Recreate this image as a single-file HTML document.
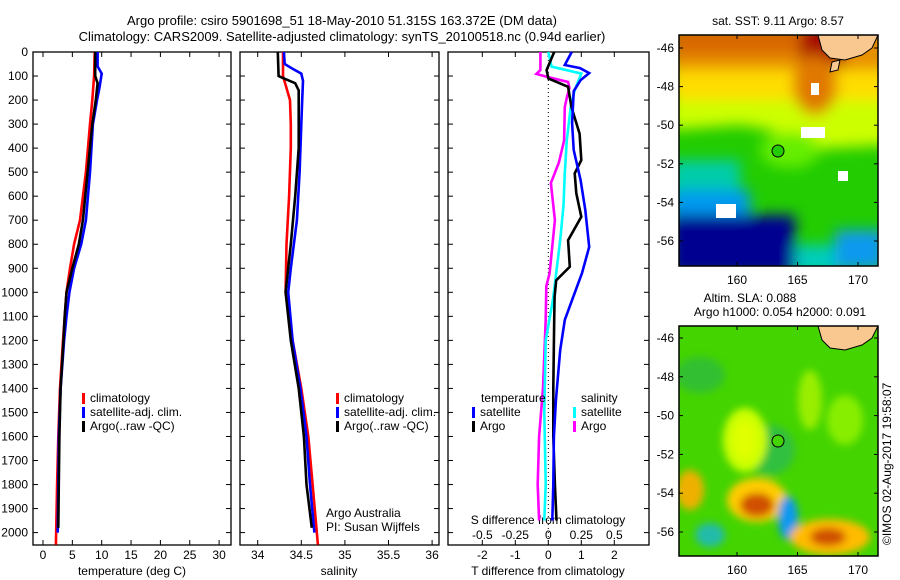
<!DOCTYPE html>
<html><head><meta charset="utf-8"><style>
body{margin:0;background:#fff;}
svg{display:block;font-family:"Liberation Sans",sans-serif;}
text{fill:#000;}
</style></head><body>
<svg id="fig" width="900" height="580" viewBox="0 0 900 580">
<defs>
<filter id="blur" x="-20%" y="-20%" width="140%" height="140%"><feGaussianBlur stdDeviation="7"/></filter>
<filter id="blur2" x="-30%" y="-30%" width="160%" height="160%"><feGaussianBlur stdDeviation="4"/></filter>
<clipPath id="clipTop"><rect x="679" y="35" width="199" height="231"/></clipPath>
<clipPath id="clipBot"><rect x="679" y="326" width="199" height="230"/></clipPath>
</defs>
<text x="342" y="25" font-size="13" text-anchor="middle">Argo profile: csiro 5901698_51 18-May-2010 51.315S 163.372E (DM data)</text>
<text x="342" y="41" font-size="13" text-anchor="middle">Climatology: CARS2009. Satellite-adjusted climatology: synTS_20100518.nc (0.94d earlier)</text>

<!-- top map -->
<g clip-path="url(#clipTop)">
<rect x="679" y="35" width="199" height="231" fill="#22cc00"/>
<g filter="url(#blur)">
<path d="M670,25 L890,25 L890,145 L800,150 L770,130 L740,125 L700,128 L670,130 Z" fill="#ccff00"/>
<rect x="670" y="25" width="220" height="75" fill="#ffdd00"/>
<rect x="670" y="25" width="220" height="45" fill="#e89000"/>
<rect x="670" y="25" width="170" height="30" fill="#d86800"/>
<rect x="800" y="25" width="45" height="40" fill="#a81000"/>
<ellipse cx="815" cy="85" rx="22" ry="30" fill="#e07800"/>
<rect x="670" y="160" width="70" height="40" fill="#00ccaa"/>
<rect x="670" y="190" width="80" height="30" fill="#0099ee"/>
<rect x="670" y="215" width="125" height="60" fill="#000090"/>
<rect x="795" y="245" width="45" height="30" fill="#00ccbb"/>
<rect x="835" y="230" width="50" height="40" fill="#1199ee"/>
<ellipse cx="790" cy="150" rx="30" ry="18" fill="#66ee00"/>
</g>
<path d="M818,35 L878,35 L872,48 L862,55 L845,60 L830,58 L822,50 Z" fill="#f8c890" stroke="#000" stroke-width="1"/>
<path d="M832,62 L840,60 L838,70 L830,72 Z" fill="#f8c890" stroke="#000" stroke-width="1"/>
<rect x="811" y="83" width="8" height="12" fill="#fff"/>
<rect x="801" y="127" width="24" height="11" fill="#fff"/>
<rect x="838" y="171" width="10" height="10" fill="#fff"/>
<rect x="716" y="204" width="20" height="14" fill="#fff"/>
<circle cx="778" cy="151" r="6" fill="#22cc00" stroke="#000" stroke-width="1"/>
</g>
<rect x="679" y="35" width="199" height="231" fill="none" stroke="#000" stroke-width="1.5"/>
<text x="778" y="25" font-size="12" text-anchor="middle">sat. SST: 9.11 Argo: 8.57</text>

<!-- bottom map -->
<g clip-path="url(#clipBot)">
<rect x="679" y="326" width="199" height="230" fill="#44d400"/>
<g filter="url(#blur2)">
<ellipse cx="700" cy="375" rx="25" ry="18" fill="#33c030"/>
<ellipse cx="770" cy="450" rx="25" ry="25" fill="#33c040"/>
<ellipse cx="845" cy="420" rx="18" ry="25" fill="#88ee00"/>
<ellipse cx="745" cy="440" rx="22" ry="32" fill="#ccff00"/>
<ellipse cx="745" cy="440" rx="12" ry="20" fill="#e0ff00"/>
<ellipse cx="810" cy="400" rx="12" ry="30" fill="#99ee00"/>
<ellipse cx="690" cy="490" rx="14" ry="20" fill="#f0b000"/>
<ellipse cx="757" cy="500" rx="30" ry="22" fill="#ffcc00"/>
<ellipse cx="757" cy="505" rx="17" ry="12" fill="#d05000"/>
<ellipse cx="788" cy="518" rx="10" ry="22" fill="#1199ee"/>
<ellipse cx="830" cy="537" rx="40" ry="18" fill="#ffbb00"/>
<ellipse cx="828" cy="537" rx="18" ry="9" fill="#d05000"/>
<ellipse cx="710" cy="535" rx="15" ry="12" fill="#22bbaa"/>
</g>
<path d="M818,326 L878,326 L872,338 L862,345 L845,350 L830,348 L822,340 Z" fill="#f8c890" stroke="#000" stroke-width="1"/>
<circle cx="778" cy="441" r="6" fill="#44d400" stroke="#000" stroke-width="1"/>
</g>
<rect x="679" y="326" width="199" height="230" fill="none" stroke="#000" stroke-width="1.5"/>
<text x="750" y="302" font-size="12" text-anchor="middle">Altim. SLA: 0.088</text>
<text x="780" y="316" font-size="12" text-anchor="middle">Argo h1000: 0.054 h2000: 0.091</text>
<text transform="translate(891,545) rotate(-90)" font-size="12">©IMOS 02-Aug-2017 19:58:07</text>
<g id="dyn"></g>
</svg>
<script>
// ---- data ----
const tempTicks = [0,5,10,15,20,25,30];
const salTicks = [34,34.5,35,35.5,36];
const salTickLabels = ['34','34.5','35','35.5','36'];
const diffTTicks = [-2,-1,0,1,2];
const diffSTickLabels = ['-0.5','-0.25','0','0.25','0.5'];
const diffSTicks = [-0.5,-0.25,0,0.25,0.5];
const depthTicks = [0,100,200,300,400,500,600,700,800,900,1000,1100,1200,1300,1400,1500,1600,1700,1800,1900,2000];
const latTicks = [-46,-48,-50,-52,-54,-56];
const lonTicks = [160,165,170];

const tClimDepth = [0,100,200,300,500,700,800,900,1000,1200,1400,1600,1800,2050];
const tClimVal = [8.8,8.7,8.4,8.0,7.3,6.3,5.3,4.6,4.0,3.4,2.9,2.6,2.4,2.2];
const tSatDepth = [0,60,90,150,200,300,500,700,800,900,1000,1100,1200,1400,1600,1800,2000];
const tSatVal = [9.3,9.3,10.0,9.6,9.2,8.5,8.0,7.3,6.5,5.3,4.5,4.0,3.6,3.0,2.7,2.6,2.5];
const tArgoDepth = [0,100,130,200,300,500,700,800,900,1000,1100,1200,1400,1600,1800,1980];
const tArgoVal = [8.9,8.9,9.3,9.0,8.4,7.6,6.8,6.1,5.0,4.0,3.7,3.5,3.0,2.8,2.7,2.6];

const sClimDepth = [0,100,150,200,300,400,600,800,1000,1200,1400,1600,1800,2050];
const sClimVal = [34.29,34.29,34.33,34.37,34.38,34.38,34.36,34.33,34.32,34.40,34.50,34.58,34.63,34.69];
const sSatDepth = [0,50,70,90,120,200,300,500,700,900,1000,1200,1400,1600,1800,2000];
const sSatVal = [34.30,34.31,34.40,34.50,34.52,34.51,34.50,34.48,34.45,34.38,34.35,34.40,34.49,34.56,34.60,34.65];
const sArgoDepth = [0,100,110,130,160,200,400,600,800,1000,1200,1400,1600,1800,1980];
const sArgoVal = [34.23,34.24,34.30,34.43,34.47,34.47,34.47,34.43,34.38,34.32,34.38,34.47,34.53,34.56,34.62];

const dTSatDepth = [0,54,67,88,117,163,296,408,533,658,811,920,1032,1115,1240,1450,1600,1800,1950];
const dTSatVal = [0.71,0.5,0.96,1.24,0.98,0.77,0.72,0.77,0.98,1.12,1.24,1.02,0.72,0.5,0.36,0.23,0.17,0.15,0.12];
const dTArgoDepth = [0,75,110,145,229,340,450,505,588,686,783,894,950,1019,1115,1400,1600,1800,1950];
const dTArgoVal = [0.18,-0.05,0.0,0.6,0.7,0.95,1.0,0.8,0.85,1.0,0.6,0.65,0.24,0.19,0.18,0.15,0.15,0.2,0.25];
const dSSatDepth = [0,61,90,159,229,368,505,640,783,920,1032,1200,1500,1800,1950];
const dSSatVal = [0.0,0.025,0.25,0.2,0.17,0.14,0.125,0.115,0.09,0.06,0.035,-0.02,-0.03,-0.02,-0.03];
const dSArgoDepth = [0,75,91,105,125,150,190,229,368,460,545,700,783,920,975,1115,1400,1600,1800,1950];
const dSArgoVal = [-0.06,-0.06,-0.09,0.0,0.15,0.16,0.14,0.125,0.12,0.08,0.02,0.05,0.035,0.01,-0.015,-0.02,-0.04,-0.07,-0.08,-0.07];

// ---- layout ----
const NS = 'http://www.w3.org/2000/svg';
const g = document.getElementById('dyn');
const TOP = 52, BOT = 545;
const yDepth = d => TOP + d * 0.2403;
const panels = [
  {name:'temperature-panel', x0:33, x1:231, xs: v => 43 + v*5.87},
  {name:'salinity-panel', x0:240, x1:439, xs: v => 257.7 + (v-34)*87.2},
  {name:'difference-panel', x0:448, x1:649, xs: v => 548.3 + v*33}
];
const sDiffX = v => 548.3 + v*132;

function el(tag, attrs, parent){
  const e = document.createElementNS(NS, tag);
  for (const k in attrs) e.setAttribute(k, attrs[k]);
  (parent||g).appendChild(e);
  return e;
}
function txt(x,y,s,size,anchor,name){
  const t = el('text',{x:x,y:y,'font-size':size,'text-anchor':anchor||'middle'});
  t.textContent = s;
  
  
  return t;
}
function line(xs, depths, vals, color, name){
  const pts = depths.map((d,i)=> xs(vals[i]).toFixed(1)+','+yDepth(d).toFixed(1)).join(' ');
  const p = el('polyline',{points:pts, fill:'none', stroke:color, 'stroke-width':2.6, 'stroke-linejoin':'miter'});
  
  
}

panels.forEach((P,pi)=>{
  const fr = el('rect',{x:P.x0,y:TOP,width:P.x1-P.x0,height:BOT-TOP,fill:'none',stroke:'#000','stroke-width':1.3});
  
  
  depthTicks.forEach(d=>{
    const y = yDepth(d);
    el('line',{x1:P.x0,x2:P.x0+5,y1:y,y2:y,stroke:'#000'});
    el('line',{x1:P.x1,x2:P.x1-5,y1:y,y2:y,stroke:'#000'});
  });
});
depthTicks.forEach(d=>{
  txt(28, yDepth(d)+4, String(d), 12, 'end', 'depth-tick-label');
});
tempTicks.forEach(v=>{
  const x = panels[0].xs(v);
  el('line',{x1:x,x2:x,y1:TOP,y2:TOP+5,stroke:'#000'});
  el('line',{x1:x,x2:x,y1:BOT,y2:BOT-5,stroke:'#000'});
  txt(x, 559, String(v), 12, 'middle', 'temperature-tick-label');
});
txt(132, 575, 'temperature (deg C)', 12, 'middle', 'temperature-axis-title');
salTicks.forEach((v,i)=>{
  const x = panels[1].xs(v);
  el('line',{x1:x,x2:x,y1:TOP,y2:TOP+5,stroke:'#000'});
  el('line',{x1:x,x2:x,y1:BOT,y2:BOT-5,stroke:'#000'});
  txt(x, 559, salTickLabels[i], 12, 'middle', 'salinity-tick-label');
});
txt(339, 575, 'salinity', 12, 'middle', 'salinity-axis-title');
diffTTicks.forEach(v=>{
  const x = panels[2].xs(v);
  el('line',{x1:x,x2:x,y1:TOP,y2:TOP+5,stroke:'#000'});
  el('line',{x1:x,x2:x,y1:BOT,y2:BOT-5,stroke:'#000'});
  txt(x, 559, String(v), 12, 'middle', 'tdiff-tick-label');
});
diffSTicks.forEach((v,i)=>{
  txt(sDiffX(v), 539, diffSTickLabels[i], 12, 'middle', 'sdiff-tick-label');
});
txt(548, 524, 'S difference from climatology', 12, 'middle', 'sdiff-axis-title');
txt(548, 575, 'T difference from climatology', 12, 'middle', 'tdiff-axis-title');
const zl = el('line',{x1:548.3,x2:548.3,y1:TOP,y2:BOT,stroke:'#000','stroke-dasharray':'1,3'});



line(panels[0].xs, tClimDepth, tClimVal, '#f00', 'temp-climatology-line');
line(panels[0].xs, tSatDepth, tSatVal, '#00f', 'temp-satellite-line');
line(panels[0].xs, tArgoDepth, tArgoVal, '#000', 'temp-argo-line');
line(panels[1].xs, sClimDepth, sClimVal, '#f00', 'sal-climatology-line');
line(panels[1].xs, sSatDepth, sSatVal, '#00f', 'sal-satellite-line');
line(panels[1].xs, sArgoDepth, sArgoVal, '#000', 'sal-argo-line');
line(sDiffX, dSArgoDepth, dSArgoVal, '#f0f', 'sdiff-argo-line');
line(sDiffX, dSSatDepth, dSSatVal, '#0ff', 'sdiff-satellite-line');
line(panels[2].xs, dTArgoDepth, dTArgoVal, '#000', 'tdiff-argo-line');
line(panels[2].xs, dTSatDepth, dTSatVal, '#00f', 'tdiff-satellite-line');

function leg(x,y,color,label,name){
  const r = el('rect',{x:x,y:y-9,width:3,height:11,fill:color});
  
  
  txt(x+8, y, label, 12, 'start', name);
}
[[33+49,0],[240+96,1]].forEach(([lx])=>{
  leg(lx,402,'#f00','climatology','legend-climatology');
  leg(lx,416,'#00f','satellite-adj. clim.','legend-satellite');
  leg(lx,430,'#000','Argo(..raw -QC)','legend-argo');
});
txt(481, 402, 'temperature', 12, 'start', 'legend-temperature-heading');
leg(472,416,'#00f','satellite','legend-tdiff-satellite');
leg(472,430,'#000','Argo','legend-tdiff-argo');
txt(581, 402, 'salinity', 12, 'start', 'legend-salinity-heading');
leg(573,416,'#0ff','satellite','legend-sdiff-satellite');
leg(573,430,'#f0f','Argo','legend-sdiff-argo');
txt(326, 517, 'Argo Australia', 12, 'start', 'argo-australia-label');
txt(326, 531, 'PI: Susan Wijffels', 12, 'start', 'pi-label');

function mapAxes(x0,x1,y0,y1,latY0,latStep,prefix){
  latTicks.forEach(lat=>{
    const y = latY0 + (-46 - lat)*latStep;
    el('line',{x1:x0,x2:x0+4,y1:y,y2:y,stroke:'#000'});
    el('line',{x1:x1,x2:x1-4,y1:y,y2:y,stroke:'#000'});
    txt(x0-5, y+4, String(lat), 12, 'end', prefix+'-lat-tick-label');
  });
  lonTicks.forEach(lon=>{
    const x = 737 + (lon-160)*12.1;
    el('line',{x1:x,x2:x,y1:y0,y2:y0+4,stroke:'#000'});
    el('line',{x1:x,x2:x,y1:y1,y2:y1-4,stroke:'#000'});
    txt(x, y1+18, String(lon), 12, 'middle', prefix+'-lon-tick-label');
  });
}
mapAxes(679,878,35,266,48,19.3,'sst-map');
mapAxes(679,878,326,556,338,19.4,'sla-map');
</script>
</body></html>
